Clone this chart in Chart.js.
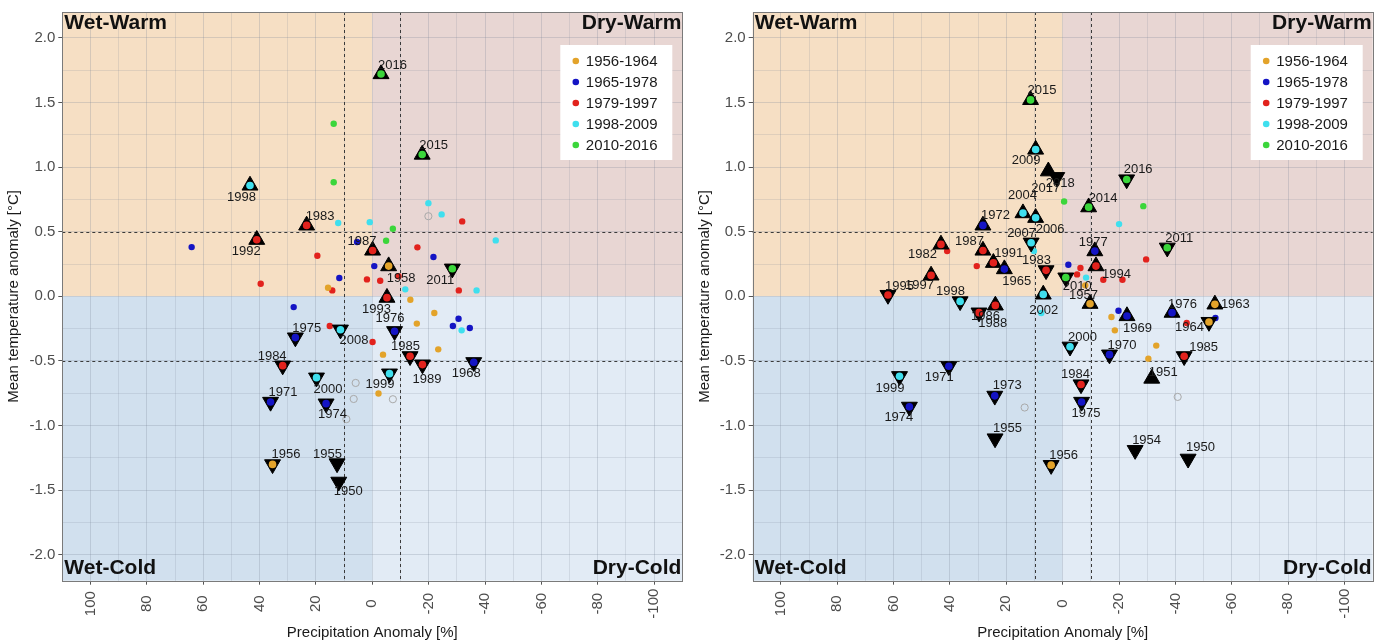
<!DOCTYPE html>
<html>
<head>
<meta charset="utf-8">
<script src="https://cdn.jsdelivr.net/npm/chart.js@4.4.1/dist/chart.umd.min.js"></script>
<style>
  html, body { margin: 0; padding: 0; background: #fff; }
  #wrap { position: relative; width: 1389px; height: 643px; }
  canvas { position: absolute; top: 0; }
  #c1 { left: 0; }
  #c2 { left: 694px; }
</style>
</head>
<body>
<div id="wrap">
  <canvas id="c1" width="694" height="643"></canvas>
  <canvas id="c2" width="695" height="643"></canvas>
</div>
<script>
// ---- data (precipitation anomaly %, temperature anomaly °C) ----
const periods = ['1956-1964', '1965-1978', '1979-1997', '1998-2009', '2010-2016'];
const periodColors = ['#e3a32a', '#1414c4', '#e2221d', '#3fdfee', '#3bd63b'];

const xTickLabels = [100, 80, 60, 40, 20, 0, -20, -40, -60, -80, -100];
const xGridValues = [100, 90, 80, 70, 60, 50, 40, 30, 20, 10, 0, -10, -20, -30, -40, -50, -60, -70, -80, -90, -100];
const yTickLabels = [-2, -1.5, -1, -0.5, 0, 0.5, 1, 1.5, 2];
const yGridValues = [-2, -1.75, -1.5, -1.25, -1, -0.75, -0.5, -0.25, 0, 0.25, 0.5, 0.75, 1, 1.25, 1.5, 1.75, 2];
const quadrantNames = ['Wet-Warm', 'Dry-Warm', 'Wet-Cold', 'Dry-Cold'];

// left panel
const leftDots1956 = [[15.7, 0.067], [-13.5, -0.026], [-22.0, -0.129], [-15.8, -0.211], [-23.4, -0.41], [-3.8, -0.451], [-2.2, -0.752]];
const leftDots1965 = [[64.1, 0.381], [5.4, 0.42], [-0.7, 0.234], [11.7, 0.142], [-21.7, 0.304], [27.9, -0.083], [-30.6, -0.173], [-28.6, -0.229], [-34.6, -0.245]];
const leftDots1979 = [[19.5, 0.314], [39.6, 0.098], [14.2, 0.046], [1.9, 0.131], [-2.8, 0.121], [-9.3, 0.155], [-16.0, 0.379], [-31.9, 0.58], [-30.7, 0.046], [15.1, -0.229], [-0.1, -0.353]];
const leftDots1998 = [[12.1, 0.567], [0.9, 0.574], [-19.9, 0.721], [-24.6, 0.634], [-43.8, 0.433], [-11.7, 0.054], [-37.0, 0.046], [-31.7, -0.263]];
const leftDots2010 = [[13.7, 1.335], [13.7, 0.883], [-7.3, 0.523], [-4.9, 0.43]];
const leftOpen = [[-19.9, 0.62], [5.9, -0.67], [6.6, -0.794], [-7.3, -0.796], [9.2, -0.95]];

const leftYears = [2016, 2015, 1998, 1983, 1992, 1987, 1958, 2011, 1993, 1975, 2008, 1976, 1985, 1989, 1968, 1984, 2000, 1999, 1971, 1974, 1956, 1955, 1950];
const leftYearPrecip = [-3.1, -17.7, 43.4, 23.3, 41.0, -0.1, -5.8, -28.4, -5.2, 27.3, 11.3, -7.9, -13.4, -17.8, -36.0, 31.8, 19.8, -6.1, 36.1, 16.4, 35.4, 12.5, 11.9];
const leftYearTemp = [1.72, 1.097, 0.858, 0.549, 0.438, 0.355, 0.234, 0.214, -0.01, -0.319, -0.258, -0.27, -0.464, -0.528, -0.51, -0.536, -0.629, -0.598, -0.817, -0.83, -1.30, -1.293, -1.435];
const leftYearShape = ['up', 'up', 'up', 'up', 'up', 'up', 'up', 'down', 'up', 'down', 'down', 'down', 'down', 'down', 'down', 'down', 'down', 'down', 'down', 'down', 'down', 'down', 'down'];

// right panel
const rightDots1956 = [[-8.0, 0.085], [-17.3, -0.16], [-18.5, -0.263], [-33.2, -0.381], [-30.4, -0.482]];
const rightDots1965 = [[-2.0, 0.245], [-19.8, -0.111], [-54.2, -0.168]];
const rightDots1979 = [[41.0, 0.35], [30.5, 0.234], [-6.3, 0.219], [-5.1, 0.17], [-14.4, 0.129], [-21.2, 0.129], [-29.6, 0.286], [-44.0, -0.206]];
const rightDots1998 = [[10.2, 0.35], [-20.0, 0.559], [-8.3, 0.145], [7.6, -0.129]];
const rightDots2010 = [[-0.5, 0.734], [-28.6, 0.698]];
const rightOpen = [[13.5, -0.86], [-40.8, -0.778]];

const rightYears = [2015, 2009, 2017, 2018, 2004, 2006, 1972, 2007, 1982, 1987, 1991, 1965, 1983, 1997, 1995, 1998, 2010, 1957, 2002, 1986, 1988, 1969, 1976, 1964, 1963, 2000, 1970, 1985, 1951, 1984, 1975, 1971, 1999, 1973, 1974, 1955, 1956, 1954, 1950, 2016, 2014, 1977, 1994, 2011];
const rightYearPrecip = [11.4, 9.6, 5.1, 2.1, 14.1, 9.6, 28.3, 11.2, 43.2, 28.3, 24.6, 20.7, 5.9, 46.7, 62.0, 36.4, -1.1, -9.7, 6.9, 29.7, 23.9, -22.8, -38.8, -51.9, -54.0, -2.6, -16.6, -43.1, -31.6, -6.5, -6.7, 40.4, 57.9, 24.1, 54.4, 24.0, 4.1, -25.7, -44.5, -22.7, -9.2, -11.4, -11.8, -37.1];
const rightYearTemp = [1.52, 1.136, 0.968, 0.922, 0.644, 0.608, 0.549, 0.415, 0.402, 0.355, 0.26, 0.211, 0.201, 0.162, 0.01, -0.039, 0.145, -0.057, 0.015, -0.126, -0.07, -0.152, -0.126, -0.199, -0.062, -0.39, -0.451, -0.464, -0.636, -0.682, -0.817, -0.541, -0.618, -0.77, -0.855, -1.10, -1.306, -1.19, -1.257, 0.904, 0.69, 0.35, 0.234, 0.376];
const rightYearShape = ['up', 'up', 'up', 'down', 'up', 'up', 'up', 'down', 'up', 'up', 'up', 'up', 'down', 'up', 'down', 'down', 'down', 'up', 'up', 'down', 'up', 'up', 'up', 'down', 'up', 'down', 'down', 'down', 'up', 'down', 'down', 'down', 'down', 'down', 'down', 'down', 'down', 'down', 'down', 'down', 'up', 'up', 'up', 'down'];

// label placement (px offset of the text from its marker), style only
const leftLabelNudge = [[-3, -9], [-3, -9], [-23, 12], [-1, -9], [-25, 12], [-25, -9], [-2, 12.5], [-26, 12], [-25, 12], [-3, -9], [-1, 11], [-19, -13], [-19, -10], [-10, 15], [-22, 11], [-25, -9], [-3, 12], [-24, 11], [-2, -10], [-8, 11], [-1, -10], [-24, -9], [-5, 10]];
const rightLabelNudge = [[-3, -9], [-24, 11], [-17, 17], [-11, 6], [-15, -18], [0, 12], [-2, -10], [-24, -9], [-33, 10], [-28, -9], [1, -9], [-2, 12], [-24, -10], [-26, 10], [-3, -9], [-24, -10], [-3, 9], [-21, -8], [-14, 16], [-8, 4], [-17, 18], [-4, 12], [-4, -8], [-34, 5], [6, 0], [-2, -9], [-2, -9], [5, -9], [-3, -6], [-20, -10], [-10, 11], [-24, 11], [-24, 12], [-2, -10], [-25, 11], [-2, -10], [-2, -10], [-3, -10], [-2, -11], [-3, -10], [0, -9], [-16, -9], [6, 8], [-2, -9]];

const FONT = "'Liberation Sans', Arial, sans-serif";

function yearColor(yr) {
    if (yr >= 1956 && yr <= 1964) return periodColors[0];
    if (yr >= 1965 && yr <= 1978) return periodColors[1];
    if (yr >= 1979 && yr <= 1997) return periodColors[2];
    if (yr >= 1998 && yr <= 2009) return periodColors[3];
    if (yr >= 2010 && yr <= 2016) return periodColors[4];
    return '#000000';
}

const toPts = arr => arr.map(([x, y]) => ({ x, y }));

function makePanel(canvasId, geom, dots, open, years, precip, temp, shapes, nudges) {
    const pts = years.map((yr, i) => ({ x: precip[i], y: temp[i] }));

    const datasets = [
        { data: pts, backgroundColor: years.map(yearColor), pointRadius: 3.8, borderWidth: 0, order: 1 },
        { data: pts.filter((p, i) => shapes[i] === 'up'), pointStyle: 'triangle', pointRadius: 9.2,
          backgroundColor: '#000', borderColor: '#000', borderWidth: 1, order: 2 },
        { data: pts.filter((p, i) => shapes[i] === 'down'), pointStyle: 'triangle', pointRotation: 180, pointRadius: 9.2,
          backgroundColor: '#000', borderColor: '#000', borderWidth: 1, order: 2 },
        { data: toPts(open), backgroundColor: 'rgba(0,0,0,0)', borderColor: '#a9a9a9', borderWidth: 1, pointRadius: 3.6, order: 3 }
    ];
    dots.forEach((d, i) => {
        datasets.push({ label: periods[i], data: toPts(d), backgroundColor: periodColors[i], pointRadius: 3.2, borderWidth: 0, order: 4 });
    });

    // backgrounds, reference lines, labels, legend
    const decor = {
        id: 'decor',
        beforeDraw(chart) {
            const { ctx, chartArea: a, scales: { x, y } } = chart;
            const x0 = x.getPixelForValue(0), y0 = y.getPixelForValue(0);
            ctx.save();
            ctx.fillStyle = '#f6dfc4'; ctx.fillRect(a.left, a.top, x0 - a.left, y0 - a.top);
            ctx.fillStyle = '#e8d6d3'; ctx.fillRect(x0, a.top, a.right - x0, y0 - a.top);
            ctx.fillStyle = '#d1e0ee'; ctx.fillRect(a.left, y0, x0 - a.left, a.bottom - y0);
            ctx.fillStyle = '#e2ebf5'; ctx.fillRect(x0, y0, a.right - x0, a.bottom - y0);
            ctx.restore();
        },
        beforeDatasetsDraw(chart) {
            const { ctx, chartArea: a, scales: { x, y } } = chart;
            ctx.save();
            ctx.strokeStyle = '#3a3a3a';
            ctx.lineWidth = 1;
            ctx.setLineDash([3, 3]);
            [10, -10].forEach(v => {
                const px = Math.round(x.getPixelForValue(v)) + 0.5;
                ctx.beginPath(); ctx.moveTo(px, a.top); ctx.lineTo(px, a.bottom); ctx.stroke();
            });
            [0.5, -0.5].forEach(v => {
                const py = Math.round(y.getPixelForValue(v)) + 0.5;
                ctx.beginPath(); ctx.moveTo(a.left, py); ctx.lineTo(a.right, py); ctx.stroke();
            });
            ctx.setLineDash([]);
            ctx.strokeStyle = '#7a7a7a';
            ctx.strokeRect(Math.round(a.left) + 0.5, Math.round(a.top) + 0.5, Math.round(a.right - a.left), Math.round(a.bottom - a.top));
            ctx.restore();
        },
        afterDatasetsDraw(chart) {
            const { ctx, chartArea: a, scales: { x, y } } = chart;
            ctx.save();

            // year labels
            ctx.font = '13px ' + FONT;
            ctx.fillStyle = '#1a1a1a';
            ctx.textAlign = 'left';
            ctx.textBaseline = 'middle';
            years.forEach((yr, i) => {
                const px = x.getPixelForValue(precip[i]);
                const py = y.getPixelForValue(temp[i]);
                ctx.fillText(String(yr), px + nudges[i][0], py + nudges[i][1]);
            });

            // quadrant names
            ctx.font = 'bold 21px ' + FONT;
            ctx.fillStyle = '#111';
            ctx.textBaseline = 'alphabetic';
            ctx.textAlign = 'left';
            ctx.fillText(quadrantNames[0], a.left + 2, a.top + 17);
            ctx.fillText(quadrantNames[2], a.left + 2, a.bottom - 7);
            ctx.textAlign = 'right';
            ctx.fillText(quadrantNames[1], a.right - 1, a.top + 17);
            ctx.fillText(quadrantNames[3], a.right - 1, a.bottom - 7);

            // legend
            const lx = a.right - 122, ly = a.top + 33;
            ctx.fillStyle = '#ffffff';
            ctx.fillRect(lx, ly, 112, 115);
            ctx.font = '15px ' + FONT;
            ctx.textAlign = 'left';
            ctx.textBaseline = 'middle';
            periods.forEach((p, i) => {
                const ry = ly + 16 + i * 21;
                ctx.fillStyle = periodColors[i];
                ctx.beginPath(); ctx.arc(lx + 15.5, ry, 3.3, 0, Math.PI * 2); ctx.fill();
                ctx.fillStyle = '#1a1a1a';
                ctx.fillText(p, lx + 25.5, ry + 0.5);
            });

            // x tick labels, rotated and centred under their ticks
            ctx.font = '15px ' + FONT;
            ctx.fillStyle = '#4d4d4d';
            ctx.textAlign = 'center';
            ctx.textBaseline = 'middle';
            xTickLabels.forEach(v => {
                ctx.save();
                ctx.translate(x.getPixelForValue(v), a.bottom + 23);
                ctx.rotate(-Math.PI / 2);
                ctx.fillText(String(v), 0, 0);
                ctx.restore();
            });
            ctx.restore();
        }
    };

    const gridMajor = 'rgba(120,132,150,0.26)';
    const gridMinor = 'rgba(120,132,150,0.18)';

    return new Chart(document.getElementById(canvasId), {
        type: 'scatter',
        data: { datasets },
        plugins: [decor],
        options: {
            responsive: false,
            animation: false,
            events: [],
            layout: { padding: { top: 11.3, right: geom.padRight, bottom: 0, left: 0 } },
            plugins: { legend: { display: false }, tooltip: { enabled: false } },
            scales: {
                x: {
                    type: 'linear',
                    reverse: true,
                    min: -110,
                    max: 110,
                    afterBuildTicks: s => { s.ticks = xGridValues.map(v => ({ value: v })); },
                    afterFit: s => { s.height = 62.3; },
                    ticks: { display: false },
                    border: { display: false },
                    grid: {
                        color: c => (c.tick && xTickLabels.includes(c.tick.value)) ? gridMajor : gridMinor,
                        tickColor: c => (c.tick && xTickLabels.includes(c.tick.value)) ? '#555' : 'rgba(0,0,0,0)',
                        tickLength: 4,
                        lineWidth: 1
                    },
                    title: {
                        display: true,
                        text: 'Precipitation Anomaly [%]',
                        color: '#1a1a1a',
                        font: { size: 15, family: FONT },
                        padding: { top: 0, bottom: 1 }
                    }
                },
                y: {
                    type: 'linear',
                    min: -2.2,
                    max: 2.2,
                    afterBuildTicks: s => { s.ticks = yGridValues.map(v => ({ value: v })); },
                    afterFit: s => { s.width = geom.yWidth; },
                    border: { display: false },
                    ticks: {
                        autoSkip: false,
                        padding: 3,
                        color: '#4d4d4d',
                        font: { size: 15, family: FONT },
                        callback: v => yTickLabels.includes(v) ? v.toFixed(1) : ''
                    },
                    grid: {
                        color: c => (c.tick && yTickLabels.includes(c.tick.value)) ? gridMajor : gridMinor,
                        tickColor: c => (c.tick && yTickLabels.includes(c.tick.value)) ? '#555' : 'rgba(0,0,0,0)',
                        tickLength: 4,
                        lineWidth: 1
                    },
                    title: {
                        display: true,
                        text: 'Mean temperature anomaly [°C]',
                        color: '#1a1a1a',
                        font: { size: 15, family: FONT },
                        padding: { top: geom.titlePad, bottom: 0 }
                    }
                }
            }
        }
    });
}

makePanel('c1', { yWidth: 62.3, padRight: 11.7, titlePad: 5 },
    [leftDots1956, leftDots1965, leftDots1979, leftDots1998, leftDots2010], leftOpen,
    leftYears, leftYearPrecip, leftYearTemp, leftYearShape, leftLabelNudge);

makePanel('c2', { yWidth: 58.7, padRight: 16.3, titlePad: 2 },
    [rightDots1956, rightDots1965, rightDots1979, rightDots1998, rightDots2010], rightOpen,
    rightYears, rightYearPrecip, rightYearTemp, rightYearShape, rightLabelNudge);
</script>
</body>
</html>
